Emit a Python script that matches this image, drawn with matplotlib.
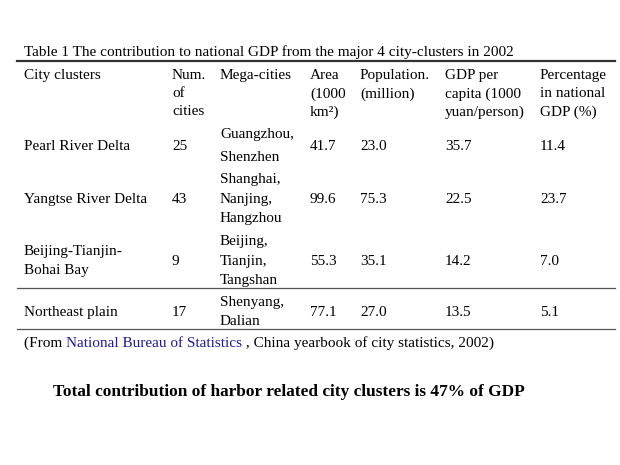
import matplotlib.pyplot as plt

# table contents
headers = ["City clusters", "Num.\nof\ncities", "Mega-cities", "Area\n(1000\nkm\u00b2)",
           "Population.\n(million)", "GDP per\ncapita (1000\nyuan/person)",
           "Percentage\nin national\nGDP (%)"]
clusters = ["Pearl River Delta", "Yangtse River Delta", "Beijing-Tianjin-\nBohai Bay", "Northeast plain"]
num_cities = [25, 43, 9, 17]
mega_cities = ["Guangzhou,\nShenzhen", "Shanghai,\nNanjing,\nHangzhou", "Beijing,\nTianjin,\nTangshan",
               "Shenyang,\nDalian"]
area = [41.7, 99.6, 55.3, 77.1]
population = [23.0, 75.3, 35.1, 27.0]
gdp_per_capita = [35.7, 22.5, 14.2, 13.5]
pct_gdp = [11.4, 23.7, 7.0, 5.1]

title = "Table 1 The contribution to national GDP from the major 4 city-clusters in 2002"
summary = "Total contribution of harbor related city clusters is 47% of GDP"

serif = "Liberation Serif"
fs = 11

fig = plt.figure(figsize=(6.2, 4.65), dpi=100)
ax = fig.add_axes([0, 0, 1, 1])
ax.set_xlim(0, 620)
ax.set_ylim(465, 0)
ax.axis("off")

col_x = [24, 172, 220, 310, 360, 445, 540]
row_y = [146, 199, 261, 312]
row_ls = [1.95, 1.68, 1.68, 1.68]

ax.text(24, 52, title, fontsize=fs, family=serif, va="center", ha="left")
ax.plot([17, 615], [61, 61], color="#333333", lw=1.6)

for x, h in zip(col_x, headers):
    ax.text(x, 69, h, fontsize=fs, family=serif, va="top", ha="left", linespacing=1.5)

for i, y in enumerate(row_y):
    vals = [clusters[i], str(num_cities[i]), mega_cities[i], f"{area[i]:.1f}",
            f"{population[i]:.1f}", f"{gdp_per_capita[i]:.1f}", f"{pct_gdp[i]:.1f}"]
    for x, v in zip(col_x, vals):
        ax.text(x, y, v, fontsize=fs, family=serif, va="center", ha="left", linespacing=row_ls[i])

ax.plot([17, 615], [288, 288], color="#555555", lw=0.9)
ax.plot([17, 615], [329, 329], color="#555555", lw=0.9)

# footnote with coloured source name
t1 = ax.text(24, 343, "(From ", fontsize=fs, family=serif, va="center", ha="left")
fig.canvas.draw()
bb = t1.get_window_extent()
x2 = ax.transData.inverted().transform((bb.x1, 0))[0]
t2 = ax.text(x2, 343, "National Bureau of Statistics", fontsize=fs, family=serif,
             va="center", ha="left", color="#1c1c9c")
fig.canvas.draw()
bb = t2.get_window_extent()
x3 = ax.transData.inverted().transform((bb.x1, 0))[0]
ax.text(x3, 343, " , China yearbook of city statistics, 2002)", fontsize=fs, family=serif,
        va="center", ha="left")

ax.text(53, 392, summary, fontsize=12.4, family=serif, fontweight="bold", va="center", ha="left")

fig.savefig("out.png", dpi=100)
